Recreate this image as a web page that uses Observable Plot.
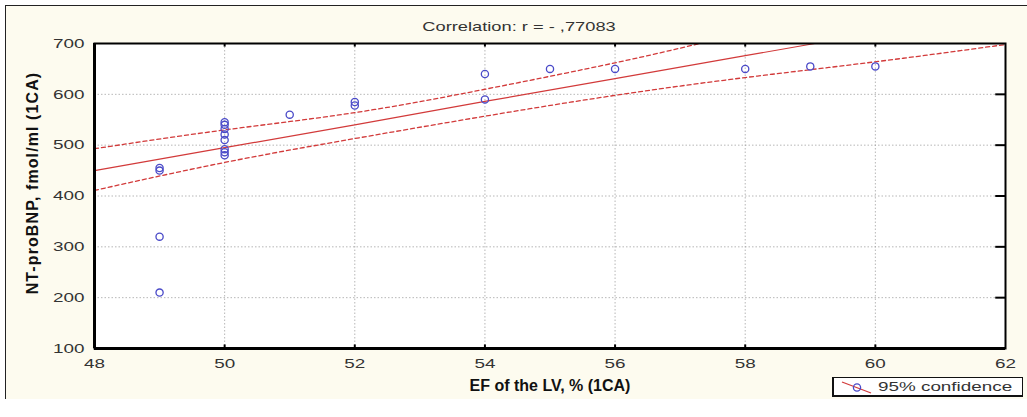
<!DOCTYPE html>
<html>
<head>
<meta charset="utf-8">
<script src="https://cdn.jsdelivr.net/npm/d3@7"></script>
<script src="https://cdn.jsdelivr.net/npm/@observablehq/plot@0.6"></script>
<style>
  html, body { margin: 0; padding: 0; background: #ffffff; }
  #wrap { position: relative; width: 1027px; height: 417px; overflow: hidden; }
  #bg { position: absolute; left: 5px; top: 5px; width: 1022px; height: 393px; background: #fdfbef;
        border-top: 1.5px solid #222; border-left: 1.5px solid #222; }
  #chart { position: absolute; left: 0; top: 0; }
  #chart svg { background: transparent !important; font-family: "Liberation Sans", Arial, sans-serif; }
  #chart svg [aria-label="x-axis label"] text { font-weight: bold; fill: #111; font-size: 16px; }
  #chart svg .ylabel text { letter-spacing: 1.1px; }
  #legend { position: absolute; left: 832px; top: 377px; width: 188px; height: 17px; background: #fff;
            border: 1px solid #111; border-left-width: 2.5px; border-bottom-width: 2.5px;
            font-family: "Liberation Sans", Arial, sans-serif; font-size: 13px; color: #333; display: flex; align-items: center; }
  #legend svg { margin-left: 6px; margin-right: 4px; flex: none; }
  #legend span { display: inline-block; transform: scaleX(1.45); transform-origin: left center; white-space: nowrap; }
</style>
</head>
<body>
<div id="wrap">
  <div id="bg"></div>
  <div id="chart"></div>
  <div id="legend"><svg width="34" height="16"><line x1="2" y1="3" x2="31" y2="14" stroke="#d23a3a" stroke-width="1.3"/><circle cx="17" cy="8.5" r="3.6" fill="none" stroke="#4a4ac8" stroke-width="1.3"/></svg><span>95% confidence</span></div>
</div>
<script>
// Observed points: EF of the LV (%) and NT-proBNP (fmol/ml)
const efValues = [49, 49, 49, 49, 50, 50, 50, 50, 50, 50, 50, 50, 51, 52, 52, 54, 54, 55, 56, 58, 59, 60];
const bnpValues = [455, 450, 320, 210, 545, 540, 532, 521, 510, 492, 486, 480, 560, 585, 578, 640, 590, 650, 650, 650, 655, 655];

// Regression line
const fitX = [48, 50, 52, 54, 56, 58, 59.07];
const fitY = [450, 495, 540, 586, 631, 676, 700];

// 95% confidence curves
const upperX = [48, 50, 52, 54, 56, 57.3];
const upperY = [493, 530, 564, 610, 662, 700];
const lowerX = [48, 50, 52, 54, 56, 58, 60, 62];
const lowerY = [411, 466, 513, 557, 598, 633, 664, 698];

const xTicks = [48, 50, 52, 54, 56, 58, 60, 62];
const yTicks = [100, 200, 300, 400, 500, 600, 700];
const titleText = "Correlation: r = - ,77083";
const xLabel = "EF of the LV, % (1CA)";
const yLabel = "NT-proBNP, fmol/ml (1CA)";

const points = efValues.map((x, i) => ({x, y: bnpValues[i]}));
const fit = fitX.map((x, i) => ({x, y: fitY[i]}));
const upper = upperX.map((x, i) => ({x, y: upperY[i]}));
const lower = lowerX.map((x, i) => ({x, y: lowerY[i]}));

const red = "#d23a3a";
const innerX = xTicks.slice(1, -1);
const innerY = yTicks.slice(1, -1);

const chart = Plot.plot({
  width: 1027,
  height: 417,
  marginLeft: 94,
  marginRight: 22,
  marginTop: 43,
  marginBottom: 69,
  style: {background: "transparent", fontSize: "13px", color: "#333"},
  x: {type: "linear", domain: [48, 62], ticks: xTicks},
  y: {type: "linear", domain: [100, 700], ticks: yTicks},
  marks: [
    Plot.frame({fill: "#ffffff"}),
    Plot.gridX(innerX, {stroke: "#999", strokeOpacity: 0.7, strokeDasharray: "1.5,2"}),
    Plot.gridY(innerY, {stroke: "#999", strokeOpacity: 0.7, strokeDasharray: "1.5,2"}),
    Plot.line(upper, {x: "x", y: "y", stroke: red, strokeWidth: 1.3, strokeDasharray: "4,3", curve: "natural"}),
    Plot.line(lower, {x: "x", y: "y", stroke: red, strokeWidth: 1.3, strokeDasharray: "4,3", curve: "natural"}),
    Plot.line(fit, {x: "x", y: "y", stroke: red, strokeWidth: 1.2}),
    Plot.dot(points, {x: "x", y: "y", r: 3.6, stroke: "#4a4ac8", strokeWidth: 1.3, fill: "none"}),
    Plot.axisX(xTicks, {anchor: "bottom", tickSize: 0, tickPadding: 10, fill: "#333", className: "stretch",
      label: xLabel, labelAnchor: "center", labelOffset: 42, labelArrow: "none"}),
    Plot.axisY(yTicks, {anchor: "left", tickSize: 0, tickPadding: 10, fill: "#333", className: "stretch", label: null}),
    Plot.text([yLabel], {frameAnchor: "left", rotate: -90, dx: -62, dy: -13, textAnchor: "middle", lineAnchor: "middle",
      fontSize: 16, fontWeight: "bold", fill: "#111", className: "ylabel"}),
    Plot.ruleX(innerX, {y1: 700, y2: 693, stroke: "#000", strokeWidth: 2}),
    Plot.ruleX(innerX, {y1: 100, y2: 107, stroke: "#000", strokeWidth: 2}),
    Plot.ruleY(innerY, {x1: 62, x2: 61.85, stroke: "#000", strokeWidth: 2}),
    Plot.frame({stroke: "#000", strokeWidth: 2}),
    Plot.ruleY([100], {stroke: "#000", strokeWidth: 3}),
    Plot.ruleX([48], {stroke: "#000", strokeWidth: 3}),
    Plot.text([titleText], {frameAnchor: "top", dx: -31, dy: -17, lineAnchor: "middle", fontSize: 12.6, fill: "#333", className: "stretch"})
  ]
});
document.getElementById("chart").appendChild(chart);

// The reference's regular text is drawn wide: stretch glyphs horizontally
d3.select(chart).selectAll("[aria-label='x-axis tick label'] text, [aria-label='y-axis tick label'] text, .stretch text")
  .each(function () {
    if (this.closest("[aria-label='x-axis label']")) return;
    const len = this.getComputedTextLength();
    this.setAttribute("textLength", (len * 1.45).toFixed(1));
    this.setAttribute("lengthAdjust", "spacingAndGlyphs");
  });
</script>
</body>
</html>
